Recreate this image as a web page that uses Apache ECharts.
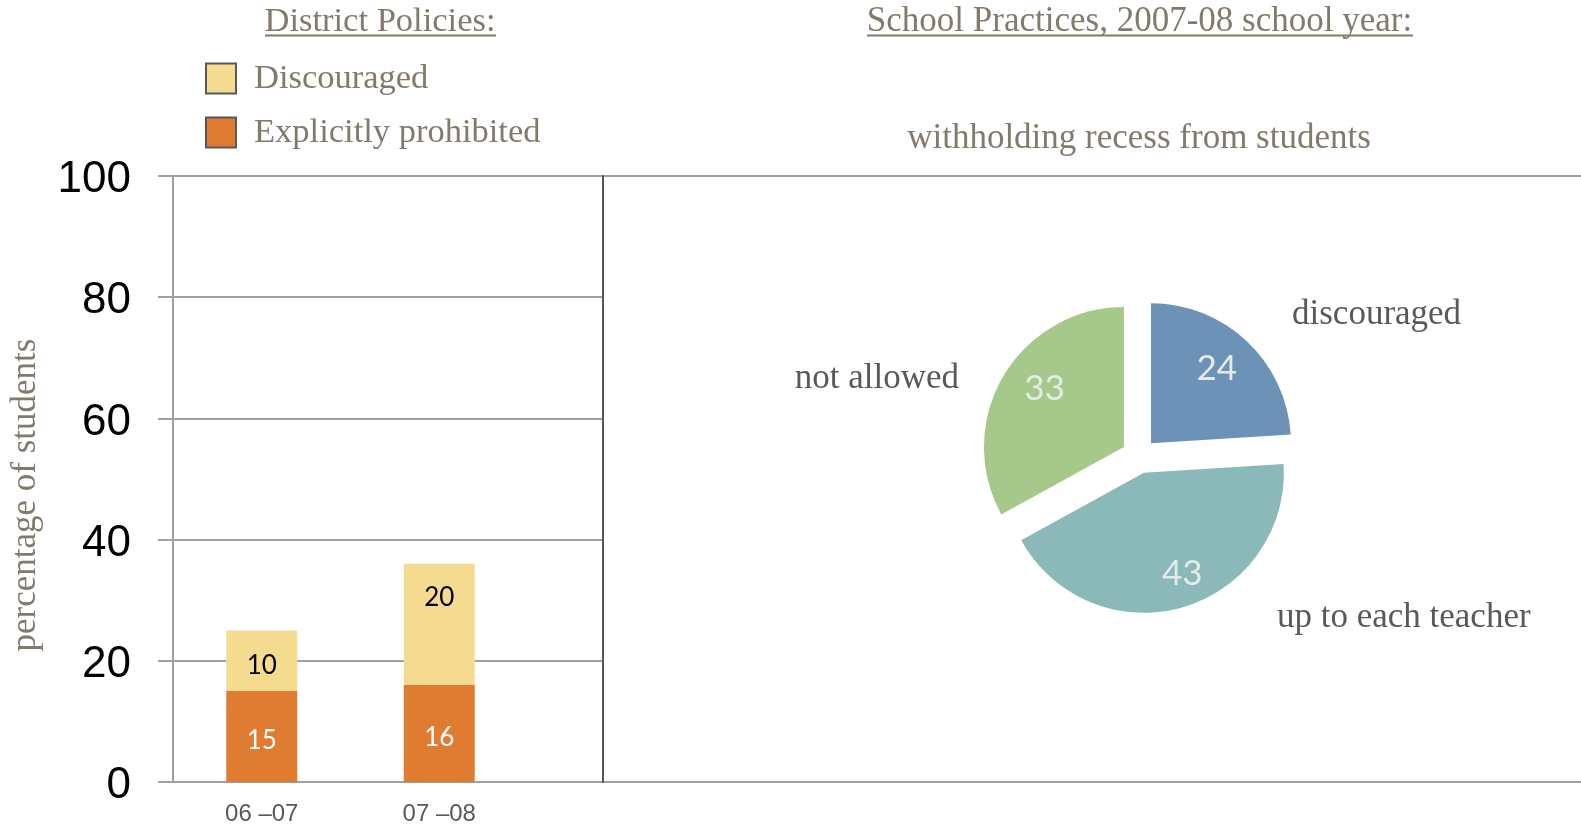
<!DOCTYPE html>
<html><head><meta charset="utf-8">
<script src="https://cdn.jsdelivr.net/npm/echarts@6/dist/echarts.min.js"></script>
<style>html,body{margin:0;padding:0;background:#fff}#c{width:1581px;height:826px}</style>
</head><body><div id="c"></div>
<script>
// ---- data ----
const years = ['06 –07', '07 –08'];
const prohibited = [15, 16];
const discouraged = [10, 20];
const seriesNames = ['Discouraged', 'Explicitly prohibited'];
const pieNames = ['discouraged', 'up to each teacher', 'not allowed'];
const pieValues = [24, 43, 33];
const titleLeft = 'District Policies:';
const titleRight = 'School Practices, 2007-08 school year:';
const subTitleRight = 'withholding recess from students';
const yAxisTitle = 'percentage of students';

// ---- styles ----
const taupe = '#847a6c';
const darkGrey = '#595959';
const gridGrey = '#a0a0a0';
const serif = 'Liberation Serif';
const pieColors = ['#6d92b7', '#8bb8b8', '#a6c98b'];
const pieLabelOffsets = [[-6, 2], [9, 0], [11, -5]];
const discouragedLabelOffsets = [[0, 5], [0, -27]];
const pieNameLayout = [
  {x: 1292, y: 315, align: 'left'},
  {x: 1277, y: 618, align: 'left'},
  {x: 959, y: 379, align: 'right'}
];

const chart = echarts.init(document.getElementById('c'), null, {renderer: 'canvas'});

const graphics = [
  {type: 'text', x: 380, y: 22, style: {text: titleLeft, font: '34.5px "Liberation Serif"', fill: taupe, align: 'center', verticalAlign: 'middle'}},
  {type: 'line', shape: {x1: 265, y1: 35.5, x2: 496, y2: 35.5}, style: {stroke: taupe, lineWidth: 2}},
  {type: 'text', x: 1139.5, y: 22, style: {text: titleRight, font: '35px "Liberation Serif"', fill: taupe, align: 'center', verticalAlign: 'middle'}},
  {type: 'line', shape: {x1: 867, y1: 35.5, x2: 1413, y2: 35.5}, style: {stroke: taupe, lineWidth: 2}},
  {type: 'text', x: 1139, y: 139, style: {text: subTitleRight, font: '35px "Liberation Serif"', fill: taupe, align: 'center', verticalAlign: 'middle'}},
  {type: 'text', x: 26, y: 495, rotation: Math.PI / 2, style: {text: yAxisTitle, font: '35px "Liberation Serif"', fill: taupe, align: 'center', verticalAlign: 'middle'}}
];
pieNames.forEach((n, i) => {
  graphics.push({type: 'text', x: pieNameLayout[i].x, y: pieNameLayout[i].y,
    style: {text: n, font: '35px "Liberation Serif"', fill: darkGrey, align: pieNameLayout[i].align, verticalAlign: 'middle'}});
});

const pieData = pieNames.map((n, i) => ({name: n, value: pieValues[i], selected: true, itemStyle: {color: pieColors[i]}}));
const pieLabelData = pieNames.map((n, i) => ({name: n, value: pieValues[i], selected: true}));
const discouragedData = discouraged.map((v, i) => ({value: v, label: {offset: discouragedLabelOffsets[i]}}));

const option = {
  animation: false,
  backgroundColor: '#ffffff',
  graphic: graphics,
  legend: {
    data: [seriesNames[0], seriesNames[1]],
    orient: 'vertical', left: 205, top: 61, padding: 0,
    itemWidth: 30, itemHeight: 30, itemGap: 19,
    icon: 'rect', selectedMode: false,
    itemStyle: {borderColor: darkGrey, borderWidth: 2},
    textStyle: {fontFamily: serif, fontSize: 34.5, lineHeight: 30, color: taupe, padding: [2, 0, 0, 13]}
  },
  grid: [
    {left: 173, top: 176, width: 355, height: 606},
    {left: 173, top: 176, width: 430, height: 606},
    {left: 603, top: 176, width: 978, height: 606}
  ],
  xAxis: [
    {gridIndex: 0, type: 'category', data: years,
     axisLine: {show: false}, axisTick: {show: false},
     axisLabel: {color: darkGrey, fontFamily: 'Liberation Sans', fontSize: 24, margin: 20}},
    {gridIndex: 1, type: 'value', show: false},
    {gridIndex: 2, type: 'value', show: false}
  ],
  yAxis: [
    {gridIndex: 0, type: 'value', min: 0, max: 100, show: false},
    {gridIndex: 1, type: 'value', min: 0, max: 100, interval: 20,
     axisLine: {show: true, lineStyle: {color: gridGrey, width: 2}},
     axisTick: {show: true, length: 15, lineStyle: {color: gridGrey, width: 2}},
     axisLabel: {margin: 42, formatter: '{t|{value}}',
       rich: {t: {color: '#000', fontFamily: 'Liberation Sans', fontSize: 44, padding: [8, 0, 0, 0]}}},
     splitLine: {show: true, lineStyle: {color: gridGrey, width: 2}}},
    {gridIndex: 1, type: 'value', min: 0, max: 100, position: 'right',
     axisLine: {show: true, lineStyle: {color: '#555', width: 2}},
     axisTick: {show: false}, axisLabel: {show: false}, splitLine: {show: false}},
    {gridIndex: 2, type: 'value', min: 0, max: 100, interval: 100,
     axisLine: {show: false}, axisTick: {show: false}, axisLabel: {show: false},
     splitLine: {show: true, lineStyle: {color: gridGrey, width: 2}}}
  ],
  series: [
    {name: seriesNames[1], type: 'bar', stack: 'total', xAxisIndex: 0, yAxisIndex: 0,
     barWidth: 71, data: prohibited, itemStyle: {color: '#df7c32'},
     label: {show: true, position: 'inside', offset: [0, 4], color: '#fff', fontFamily: 'Lato', fontSize: 26}},
    {name: seriesNames[0], type: 'bar', stack: 'total', xAxisIndex: 0, yAxisIndex: 0,
     barWidth: 71, data: discouragedData, itemStyle: {color: '#f5db8f'},
     label: {show: true, position: 'inside', color: '#000', fontFamily: 'Lato', fontSize: 26}},
    {type: 'pie', center: [1139, 456], radius: 140, startAngle: 90, clockwise: true,
     selectedMode: 'multiple', selectedOffset: 17.5, silent: true,
     emphasis: {disabled: true}, label: {show: false}, labelLine: {show: false},
     data: pieData},
    {type: 'pie', center: [1139, 456], radius: [64, 140], startAngle: 90, clockwise: true,
     selectedMode: 'multiple', selectedOffset: 17.5, silent: true,
     emphasis: {disabled: true}, itemStyle: {color: 'rgba(0,0,0,0)'},
     label: {show: true, position: 'inside', color: '#e3ebe7', fontFamily: 'Lato', fontSize: 35, formatter: '{c}'},
     labelLine: {show: false},
     labelLayout: function (p) { const o = pieLabelOffsets[p.dataIndex]; return {dx: o[0], dy: o[1]}; },
     data: pieLabelData}
  ]
};
chart.setOption(option);
</script></body></html>
